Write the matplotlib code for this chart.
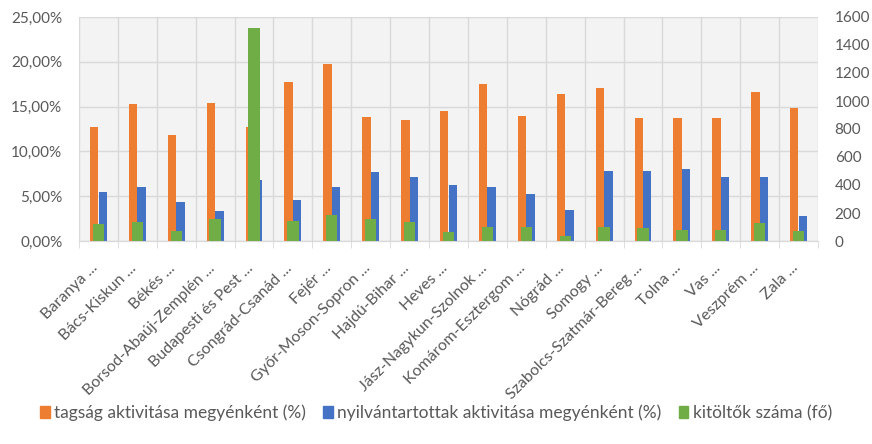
import matplotlib
matplotlib.use("Agg")
import matplotlib.pyplot as plt
import numpy as np
from matplotlib.ticker import FuncFormatter, MultipleLocator

plt.rcParams['font.family'] = ['Lato', 'DejaVu Sans']

# counties (labels truncated like in the original chart)
megyek = ["Baranya ...", "Bács-Kiskun ...", "Békés ...", "Borsod-Abaúj-Zemplén ...",
          "Budapesti és Pest ...", "Csongrád-Csanád ...", "Fejér ...",
          "Győr-Moson-Sopron ...", "Hajdú-Bihar ...", "Heves ...",
          "Jász-Nagykun-Szolnok ...", "Komárom-Esztergom ...", "Nógrád ...",
          "Somogy ...", "Szabolcs-Szatmár-Bereg ...", "Tolna ...", "Vas ...",
          "Veszprém ...", "Zala ..."]

# % values, left axis
tagsag = [12.69, 15.29, 11.8, 15.4, 12.72, 17.78, 19.72, 13.84, 13.5, 14.54,
          17.56, 13.95, 16.44, 17.11, 13.76, 13.69, 13.73, 16.59, 14.88]
nyilvantartott = [5.43, 6.06, 4.35, 3.35, 6.84, 4.54, 6.06, 7.7, 7.14, 6.25,
                  6.06, 5.28, 3.5, 7.85, 7.85, 8.04, 7.1, 7.18, 2.79]
# head count, right axis
kitoltok = [121, 134, 69, 157, 1519, 145, 186, 157, 134, 64,
            102, 102, 36, 102, 91, 81, 76, 126, 74]

labels = ["tagság aktivitása megyénként (%)",
          "nyilvántartottak aktivitása megyénként (%)",
          "kitöltők száma (fő)"]

ORANGE = '#ED7D31'
BLUE = '#4472C4'
GREEN = '#70AD47'
TXT = '#595959'
GRID = '#d9d9d9'

fig = plt.figure(figsize=(8.72, 4.44), dpi=100)
ax = fig.add_axes([79 / 872, 1 - 241 / 444, (818 - 79) / 872, 224 / 444])
ax2 = ax.twinx()

x = np.arange(len(megyek))
w = 0.215
ax.bar(x - 0.11, tagsag, w, color=ORANGE, zorder=3)
ax.bar(x + 0.11, nyilvantartott, w, color=BLUE, zorder=3)
ax2.bar(x, kitoltok, 0.29, color=GREEN, zorder=3)

# axes ranges
ax.set_xlim(-0.5, len(megyek) - 0.5)
ax.set_ylim(0, 25)
ax2.set_ylim(0, 1600)
ax.yaxis.set_major_locator(MultipleLocator(5))
ax.yaxis.set_major_formatter(FuncFormatter(lambda v, p: f"{v:.2f}%".replace('.', ',')))
ax2.yaxis.set_major_locator(MultipleLocator(200))

# background + grid
ax.set_facecolor('#f3f3f3')
ax.set_axisbelow(True)
ax.grid(axis='y', color=GRID, lw=1.0, zorder=0)
for b in np.arange(-0.5, len(megyek), 1):
    ax.axvline(b, color=GRID, lw=1.0, zorder=0)

ax.set_xticks(x)
ax.set_xticklabels(megyek, rotation=45, ha='right', va='baseline', rotation_mode='anchor')
ax.set_xticks(np.arange(-0.5, len(megyek), 1), minor=True)
ax.tick_params(axis='x', which='major', length=0, pad=20, labelsize=11.5, labelcolor=TXT)
ax.tick_params(axis='x', which='minor', length=5, color=GRID)
ax.tick_params(axis='y', length=0, labelsize=11, labelcolor=TXT, pad=12)
ax2.tick_params(axis='y', length=0, labelsize=11, labelcolor=TXT, pad=12)

for a in (ax, ax2):
    for s in ('top', 'left', 'right'):
        a.spines[s].set_visible(False)
    a.spines['bottom'].set_color(GRID)

# legend
handles = [plt.Rectangle((0, 0), 1, 1, color=c) for c in (ORANGE, BLUE, GREEN)]
fig.legend(handles, labels, loc='center', bbox_to_anchor=(0.5, 1 - 413 / 444),
           ncol=3, frameon=False, handlelength=0.55, handleheight=0.7,
           handletextpad=0.25, columnspacing=1.0, fontsize=12.5, labelcolor=TXT)

fig.savefig('out.png', dpi=100)
